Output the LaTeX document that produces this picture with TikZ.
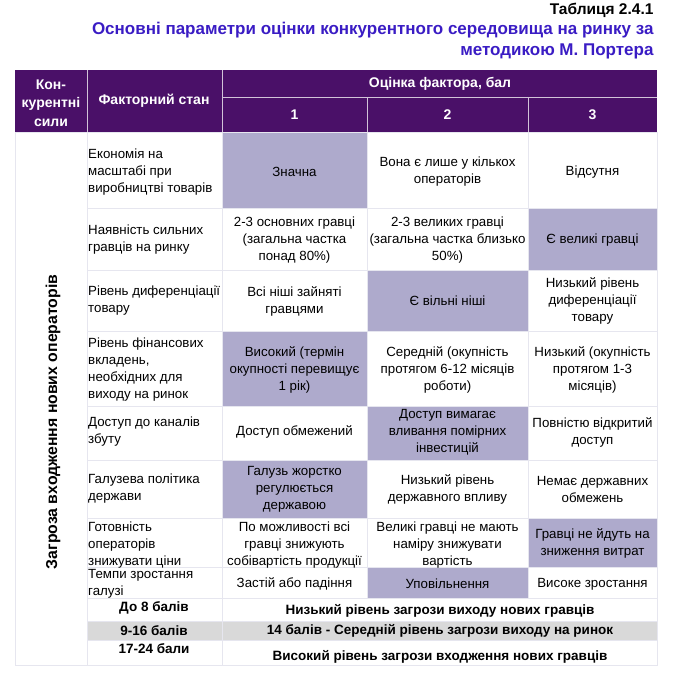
\documentclass[tikz,border=0pt]{standalone}
\usepackage{fontspec}
\setmainfont{Liberation Sans}

\definecolor{hdrpurple}{HTML}{4A1068}
\definecolor{pick}{HTML}{AEAACC}
\definecolor{titleblue}{HTML}{3A1CC4}
\definecolor{rulegray}{HTML}{E6E6EF}
\definecolor{midgray}{HTML}{D9D9D9}

\tikzset{
  txt/.style={font=\fontsize{13.3}{17}\selectfont, inner sep=0pt, align=center},
  factor/.style={txt, anchor=west, align=left},
  hdr/.style={inner sep=0pt, align=center, text=white, font=\fontsize{14}{18.5}\selectfont\bfseries},
  total/.style={inner sep=0pt, font=\fontsize{13.5}{16}\selectfont\bfseries},
}

\begin{document}
\begin{tikzpicture}[x=1pt,y=-1pt]
\useasboundingbox (0,0) rectangle (678,686);

\node[anchor=base east, font=\fontsize{15.5}{20}\selectfont\bfseries] (tab) at (657,14) {Таблиця 2.4.1};
\node[anchor=base east, text=titleblue, font=\fontsize{17}{21}\selectfont\bfseries] (title1) at (657,34) {Основні параметри оцінки конкурентного середовища на ринку за};
\node[anchor=base east, text=titleblue, font=\fontsize{17}{21}\selectfont\bfseries] (title2) at (657,55) {методикою М. Портера};

% header
\fill[hdrpurple] (15,70) rectangle (657,132);
\draw[white!75!hdrpurple, line width=0.8pt] (87,70) -- (87,132) (222,70) -- (222,132)
  (222,97) -- (657,97) (367,97) -- (367,132) (528,97) -- (528,132);

% chosen scores
\foreach \xa/\xb/\ya/\yb in {222/367/132/208, 528/657/208/270, 367/528/270/331, 222/367/331/406,
                             367/528/406/460, 222/367/460/518, 528/657/518/567, 367/528/567/598}
  \fill[pick] (\xa,\ya) rectangle (\xb,\yb);
\fill[midgray] (87,621) rectangle (657,640);

% grid
\foreach \y in {208,270,331,406,460,518,567,598,621,640}
  \draw[rulegray, line width=1pt] (87,\y) -- (657,\y);
\foreach \x in {87,222}
  \draw[rulegray, line width=1pt] (\x,132) -- (\x,665);
\foreach \x in {367,528}
  \draw[rulegray, line width=1pt] (\x,132) -- (\x,598);
\draw[rulegray, line width=1pt] (15,132) rectangle (657,665);

\node[hdr] (forces) at (51,103) {Кон-\\курентні\\сили};
\node[hdr] (state) at (154,101) {Факторний стан};
\node[hdr] (score) at (440,84) {Оцінка фактора, бал};
\node[hdr] (s1) at (294.5,115) {1};
\node[hdr] (s2) at (447.5,115) {2};
\node[hdr] (s3) at (592.5,115) {3};

\node[total, rotate=90, font=\fontsize{15.8}{18}\selectfont\bfseries] (threat) at (53,422) {Загроза входження нових операторів};

\node[factor] (f1) at (88,172) {Економія на\\масштабі при\\виробництві товарів};
\node[txt]    (a1) at (294.5,172) {Значна};
\node[txt]    (b1) at (447.5,172) {Вона є лише у кількох\\операторів};
\node[txt]    (c1) at (592.5,172) {Відсутня};

\node[factor] (f2) at (88,240) {Наявність сильних\\гравців на ринку};
\node[txt]    (a2) at (294.5,240) {2-3 основних гравці\\(загальна частка\\понад 80\%)};
\node[txt]    (b2) at (447.5,240) {2-3 великих гравці\\(загальна частка близько\\50\%)};
\node[txt]    (c2) at (592.5,240) {Є великі гравці};

\node[factor] (f3) at (88,301) {Рівень диференціації\\товару};
\node[txt]    (a3) at (294.5,301) {Всі ніші зайняті\\гравцями};
\node[txt]    (b3) at (447.5,301) {Є вільні ніші};
\node[txt]    (c3) at (592.5,301) {Низький рівень\\диференціації\\товару};

\node[factor] (f4) at (88,370) {Рівень фінансових\\вкладень,\\необхідних для\\виходу на ринок};
\node[txt]    (a4) at (294.5,370) {Високий (термін\\окупності перевищує\\1 рік)};
\node[txt]    (b4) at (447.5,370) {Середній (окупність\\протягом 6-12 місяців\\роботи)};
\node[txt]    (c4) at (592.5,370) {Низький (окупність\\протягом 1-3\\місяців)};

\node[factor] (f5) at (88,432) {Доступ до каналів\\збуту};
\node[txt]    (a5) at (294.5,432) {Доступ обмежений};
\node[txt]    (b5) at (447.5,432) {Доступ вимагає\\вливання помірних\\інвестицій};
\node[txt]    (c5) at (592.5,432) {Повністю відкритий\\доступ};

\node[factor] (f6) at (88,489) {Галузева політика\\держави};
\node[txt]    (a6) at (294.5,489) {Галузь жорстко\\регулюється\\державою};
\node[txt]    (b6) at (447.5,489) {Низький рівень\\державного впливу};
\node[txt]    (c6) at (592.5,489) {Немає державних\\обмежень};

\node[factor] (f7) at (88,545) {Готовність\\операторів\\знижувати ціни};
\node[txt]    (a7) at (294.5,545) {По можливості всі\\гравці знижують\\собівартість продукції};
\node[txt]    (b7) at (447.5,545) {Великі гравці не мають\\наміру знижувати\\вартість};
\node[txt]    (c7) at (592.5,543) {Гравці не йдуть на\\зниження витрат};

\node[factor] (f8) at (88,584) {Темпи зростання\\галузі};
\node[txt]    (a8) at (294.5,584) {Застій або падіння};
\node[txt]    (b8) at (447.5,584) {Уповільнення};
\node[txt]    (c8) at (592.5,584) {Високе зростання};

\node[total] (r1) at (154,608) {До 8 балів};
\node[total] (v1) at (440,611) {Низький рівень загрози виходу нових гравців};
\node[total] (r2) at (154,631) {9-16 балів};
\node[total] (v2) at (440,631) {14 балів - Середній рівень загрози виходу на ринок};
\node[total] (r3) at (154,649) {17-24 бали};
\node[total] (v3) at (440,657) {Високий рівень загрози входження нових гравців};

\end{tikzpicture}
\end{document}
